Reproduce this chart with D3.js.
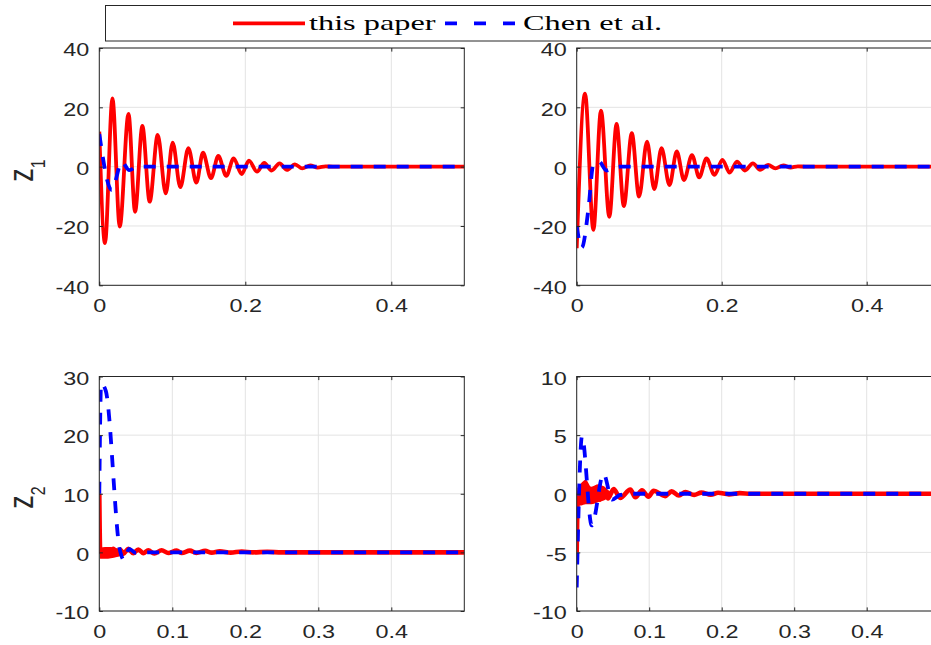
<!DOCTYPE html>
<html>
<head>
<meta charset="utf-8">
<title>z1 / z2 response comparison</title>
<script src="https://d3js.org/d3.v7.min.js"></script>
<style>
  body { margin: 0; background: #fff; }
  svg { display: block; }
</style>
</head>
<body>
<div id="chart"></div>
<script>
// legend entries
var seriesNames = ["this paper", "Chen et al."];

// tick values
var tTicksTop = [0, 0.2, 0.4];
var tTicksBottom = [0, 0.1, 0.2, 0.3, 0.4];
var z1Ticks = [-40, -20, 0, 20, 40];
var z2LeftTicks = [-10, 0, 10, 20, 30];
var z2RightTicks = [-10, -5, 0, 5, 10];

// [t, value] pairs (mostly the turning points)
var z1LeftPaper = [[0, 11.8], [0.0078, -25.8], [0.018, 23], [0.028, -20.2], [0.040, 17.8], [0.049, -15.2],
  [0.059, 13.7], [0.069, -11.8], [0.080, 10.7], [0.091, -9.0], [0.1005, 8.1], [0.111, -6.9], [0.122, 6.2],
  [0.133, -5.4], [0.142, 4.7], [0.153, -3.9], [0.163, 3.6], [0.174, -3.1], [0.184, 2.8], [0.195, -2.5],
  [0.205, 2.0], [0.216, -1.7], [0.226, 1.3], [0.236, -1.3], [0.247, 1.1], [0.257, -1.1], [0.268, 0.8],
  [0.278, -0.6], [0.289, 0.4], [0.299, -0.3], [0.31, 0.1], [0.32, 0], [0.5, 0]];
var z1LeftChen = [[0, 11], [0.017, -7.9], [0.031, 1.6], [0.041, -1.2], [0.052, 0], [0.5, 0]];

var z1RightPaper = [[0, -27.5], [0.0115, 24.6], [0.023, -21.3], [0.0335, 18.9], [0.045, -16.9], [0.055, 14.4],
  [0.065, -13.3], [0.076, 11.3], [0.086, -10.1], [0.097, 8.4], [0.107, -7.6], [0.117, 6.2], [0.128, -6.2],
  [0.138, 5.1], [0.148, -4.5], [0.159, 3.9], [0.169, -3.6], [0.179, 2.8], [0.190, -2.8], [0.201, 2.3],
  [0.211, -2.0], [0.221, 1.7], [0.232, -1.3], [0.243, 1.1], [0.253, -1.1], [0.264, 0.6], [0.274, -0.6],
  [0.285, 0.4], [0.295, -0.3], [0.305, 0.1], [0.315, 0], [0.5, 0]];
var z1RightChen = [[0, -20], [0.007, -27.3], [0.016, -14.6], [0.023, 0.8], [0.031, 1.7], [0.041, -1.3],
  [0.05, -0.5], [0.06, 0], [0.5, 0]];

var z2LeftPaper = [[0, 10], [0.0012, 0.2], [0.0055, -0.2], [0.0101, 0.5], [0.0147, -0.45], [0.0192, 0.6],
  [0.0238, -0.2], [0.0284, 0.5], [0.033, -0.25], [0.0397, 0.6], [0.0466, -0.15], [0.0534, 0.5],
  [0.0603, -0.15], [0.0671, 0.35], [0.0753, -0.2], [0.0854, 0.35], [0.0945, -0.1], [0.106, 0.3],
  [0.113, -0.1], [0.124, 0.3], [0.133, -0.1], [0.145, 0.25], [0.154, -0.05], [0.165, 0.2],
  [0.18, -0.05], [0.195, 0.15], [0.21, 0], [0.23, 0.1], [0.25, 0], [0.5, 0]];
// [t, low, high] thickness of the fast ripple right after the start
var z2LeftPaperBand = [[0.001, -1.1, 0.8], [0.008, -1.1, 0.9], [0.016, -1.0, 0.9], [0.024, -0.8, 0.7],
  [0.032, -0.5, 0.5], [0.036, -0.2, 0.2]];
var z2LeftChen = [[0, 10], [0.0025, 28.8], [0.009, 27.5], [0.028, 0.5], [0.034, -1.3], [0.041, 0.6],
  [0.05, -0.1], [0.06, 0], [0.5, 0]];

var z2RightPaper = [[0, -5], [0.0015, -0.3], [0.006, 0.4], [0.0125, 0.8], [0.019, -0.5], [0.026, 0.5],
  [0.032, -0.5], [0.037, 0.45], [0.043, -0.4], [0.051, 0.4], [0.06, -0.35], [0.074, 0.35], [0.081, -0.3],
  [0.09, 0.3], [0.099, -0.25], [0.106, 0.25], [0.122, -0.2], [0.131, 0.2], [0.141, -0.15], [0.15, 0.15],
  [0.162, -0.1], [0.172, 0.1], [0.185, -0.08], [0.195, 0.08], [0.21, -0.05], [0.225, 0.05], [0.24, 0],
  [0.5, 0]];
var z2RightPaperBand = [[0.001, -1.0, 0.5], [0.006, -1.0, 0.9], [0.0125, -0.9, 1.2], [0.02, -0.9, 0.6],
  [0.03, -0.7, 0.8], [0.04, -0.5, 0.5], [0.046, -0.2, 0.2]];
var z2RightChen = [[0, -8], [0.0073, 4.9], [0.0207, -2.7], [0.037, 1.7], [0.0487, -0.5], [0.06, -0.1],
  [0.075, 0], [0.5, 0]];

var W = 931, H = 645;
var RED = "#ff0000", BLUE = "#0000ff", AXIS = "#262626", GRID = "#e3e3e3";
var SX = 1.3; // the picture is a bit stretched sideways, text too

var svg = d3.select("#chart").append("svg")
  .attr("width", W).attr("height", H)
  .style("font-family", "'Liberation Sans', Arial, sans-serif");

svg.append("rect").attr("width", W).attr("height", H).attr("fill", "#fff");

// panel layout
var panels = [
  { id: "tl", x0: 99.3, x1: 464.3, y0: 285.3, y1: 48, domain: [-40, 40], yTicks: z1Ticks, tTicks: tTicksTop,
    paper: z1LeftPaper, chen: z1LeftChen, label: "1", lw: 3.8 },
  { id: "tr", x0: 576.7, x1: 939.2, y0: 285.3, y1: 48, domain: [-40, 40], yTicks: z1Ticks, tTicks: tTicksTop,
    paper: z1RightPaper, chen: z1RightChen, lw: 3.8 },
  { id: "bl", x0: 99.3, x1: 464.3, y0: 611, y1: 376.5, domain: [-10, 30], yTicks: z2LeftTicks, tTicks: tTicksBottom,
    paper: z2LeftPaper, band: z2LeftPaperBand, chen: z2LeftChen, label: "2", lw: 4.6 },
  { id: "br", x0: 576.7, x1: 939.2, y0: 611, y1: 376.5, domain: [-10, 10], yTicks: z2RightTicks, tTicks: tTicksBottom,
    paper: z2RightPaper, band: z2RightPaperBand, chen: z2RightChen, lw: 4.6 }
];

panels.forEach(function (p) {
  var x = d3.scaleLinear().domain([0, 0.5]).range([p.x0, p.x1]);
  var y = d3.scaleLinear().domain(p.domain).range([p.y0, p.y1]);
  var g = svg.append("g");

  g.append("clipPath").attr("id", "clip-" + p.id)
    .append("rect")
    .attr("x", p.x0).attr("y", p.y1)
    .attr("width", p.x1 - p.x0).attr("height", p.y0 - p.y1);

  // grid
  g.selectAll(".gx").data(p.tTicks).enter().append("line")
    .attr("x1", function (d) { return x(d); }).attr("x2", function (d) { return x(d); })
    .attr("y1", p.y1).attr("y2", p.y0)
    .attr("stroke", GRID).attr("stroke-width", 1);
  g.selectAll(".gy").data(p.yTicks).enter().append("line")
    .attr("x1", p.x0).attr("x2", p.x1)
    .attr("y1", function (d) { return y(d); }).attr("y2", function (d) { return y(d); })
    .attr("stroke", GRID).attr("stroke-width", 1);

  var plot = g.append("g").attr("clip-path", "url(#clip-" + p.id + ")");

  if (p.band) {
    var area = d3.area()
      .x(function (d) { return x(d[0]); })
      .y0(function (d) { return y(d[1]); })
      .y1(function (d) { return y(d[2]); })
      .curve(d3.curveMonotoneX);
    plot.append("path").datum(p.band).attr("d", area).attr("fill", RED);
  }

  var line = d3.line()
    .x(function (d) { return x(d[0]); })
    .y(function (d) { return y(d[1]); })
    .curve(d3.curveMonotoneX);

  plot.append("path").datum(p.paper).attr("d", line)
    .attr("fill", "none").attr("stroke", RED).attr("stroke-width", p.lw)
    .attr("stroke-linejoin", "round");
  plot.append("path").datum(p.chen).attr("d", line)
    .attr("fill", "none").attr("stroke", BLUE).attr("stroke-width", 3.8)
    .attr("stroke-dasharray", "12,11");

  // axes (ticks point inwards, like matlab)
  var fmt = function (d) { return String(d); };
  var axB = g.append("g").attr("transform", "translate(0," + p.y0 + ")")
    .call(d3.axisBottom(x).tickValues(p.tTicks).tickFormat(fmt).tickSizeInner(-3.6).tickSizeOuter(0).tickPadding(14));
  var axT = g.append("g").attr("transform", "translate(0," + p.y1 + ")")
    .call(d3.axisTop(x).tickValues(p.tTicks).tickFormat("").tickSizeInner(-3.6).tickSizeOuter(0));
  var axL = g.append("g").attr("transform", "translate(" + p.x0 + ",0)")
    .call(d3.axisLeft(y).tickValues(p.yTicks).tickFormat(fmt).tickSizeInner(-3.6).tickSizeOuter(0).tickPadding(7.7));
  var axR = g.append("g").attr("transform", "translate(" + p.x1 + ",0)")
    .call(d3.axisRight(y).tickValues(p.yTicks).tickFormat("").tickSizeInner(-3.6).tickSizeOuter(0));

  [axB, axT, axL, axR].forEach(function (a) {
    a.select(".domain").remove();
    a.selectAll("line").attr("stroke", AXIS);
    a.selectAll("text")
      .attr("fill", AXIS)
      .style("font-size", "18px")
      .style("font-family", "'Liberation Sans', Arial, sans-serif");
  });
  axB.selectAll("text").attr("transform", "scale(" + SX + ",1)");
  axL.selectAll("text").attr("y", 2).attr("transform", "scale(" + SX + ",1)");

  // box
  g.append("rect")
    .attr("x", p.x0).attr("y", p.y1)
    .attr("width", p.x1 - p.x0).attr("height", p.y0 - p.y1)
    .attr("fill", "none").attr("stroke", AXIS).attr("stroke-width", 1);

  // y label z_n
  if (p.label) {
    var cy = (p.y0 + p.y1) / 2;
    var t = g.append("text")
      .attr("transform", "translate(33," + (cy + 15) + ") scale(" + SX + ",1) rotate(-90)")
      .attr("fill", AXIS)
      .style("font-size", "27px");
    t.append("tspan").text("z");
    t.append("tspan").attr("dy", 9).style("font-size", "16px").text(p.label);
  }
});

// legend
var leg = svg.append("g");
leg.append("rect")
  .attr("x", 105.5).attr("y", 5.5).attr("width", 840).attr("height", 35.5)
  .attr("fill", "#fff").attr("stroke", AXIS).attr("stroke-width", 1);

var legItems = [
  { name: seriesNames[0], color: RED, dash: null, lx: 233, tx: 309 },
  { name: seriesNames[1], color: BLUE, dash: "12,17", lx: 445, tx: 523 }
];
legItems.forEach(function (d) {
  leg.append("line")
    .attr("x1", d.lx).attr("x2", d.lx + 72)
    .attr("y1", 23.3).attr("y2", 23.3)
    .attr("stroke", d.color).attr("stroke-width", 3.8)
    .attr("stroke-dasharray", d.dash);
  leg.append("text")
    .attr("transform", "translate(" + d.tx + ",29.5) scale(1.47,1)")
    .style("font-family", "'Liberation Serif', 'Times New Roman', serif")
    .style("font-size", "22px")
    .attr("fill", "#000")
    .text(d.name);
});
</script>
</body>
</html>
